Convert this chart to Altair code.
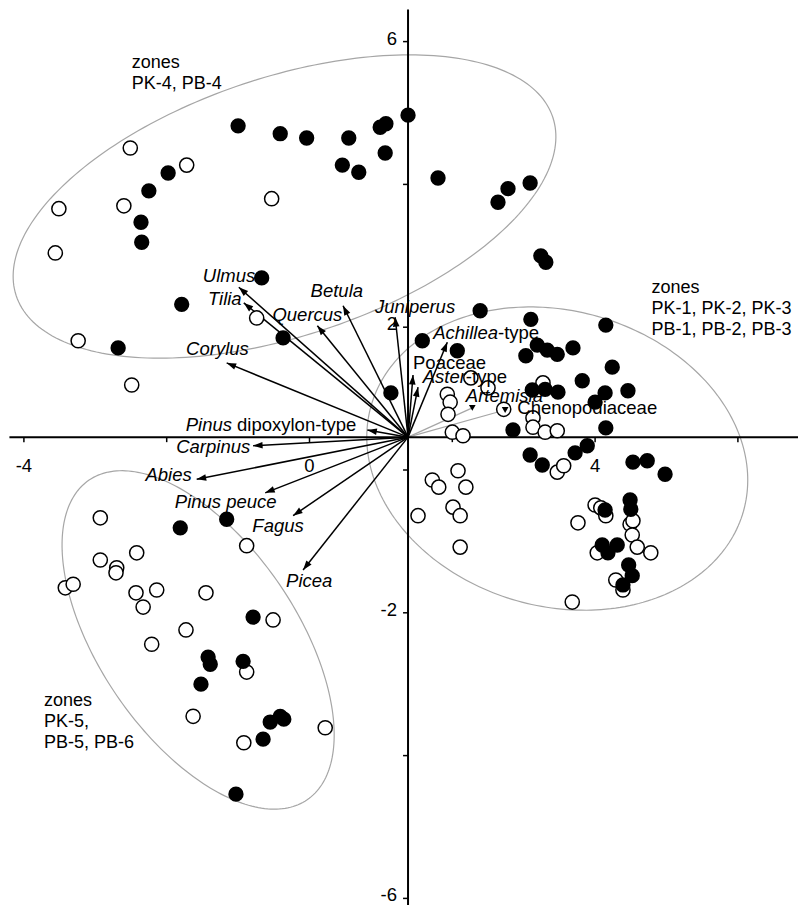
import math
import numpy as np
import pandas as pd
import altair as alt

# ---------------- data ----------------
# sample scores, filled symbols
filled_x = [-1.00, -0.41, -0.04, 0.55, 0.46, 0.69, 0.99, 1.07, 1.06, 1.38, 1.80, 2.64, 2.78, 3.09, 3.24, 3.31,
            -1.98, -2.25, -2.36, -2.35, -0.67, -1.79, -2.68, -0.37, 1.14,
            2.39, 3.10, 4.15, 1.58, 2.07, 3.19, 3.33, 3.47, 3.69, 3.03, 4.24, 3.82, 3.12, 3.30, 3.48, 4.14, 4.46,
            4.00, 2.85, 4.15, 3.09, 3.26, 3.72, 3.89, 4.53, 4.73, 4.98, 4.49, 4.50, 4.14, 4.10, 4.18, 4.31, 4.47,
            4.52, 4.39,
            -1.81, -1.16, -0.79, -1.42, -1.39, -0.93, -1.52, -0.55, -0.41, -0.36, -0.65, -1.03]
filled_y = [4.82, 4.71, 4.65, 4.65, 4.27, 4.17, 4.80, 4.85, 4.44, 4.97, 4.09, 3.75, 3.94, 4.02, 3.00, 2.91,
            4.16, 3.91, 3.47, 3.19, 2.69, 2.32, 1.71, 1.85, 1.08,
            2.23, 2.11, 2.03, 1.81, 1.67, 1.75, 1.68, 1.62, 1.71, 1.60, 1.44, 1.25, 1.12, 1.13, 1.09, 1.08, 1.11,
            0.95, 0.56, 0.59, 0.21, 0.07, 0.24, 0.34, 0.11, 0.13, -0.06, -0.42, -0.55, -0.56, -1.05, -1.16, -1.05,
            -1.33, -1.48, -1.61,
            -0.81, -0.69, -2.06, -2.62, -2.72, -2.68, -3.00, -3.53, -3.45, -3.49, -3.77, -4.54]

# sample scores, open symbols
open_x = [-2.51, -1.72, -3.51, -2.60, -3.56, -0.53, -3.24, -2.49, -0.74,
          2.26, 2.50, 1.93, 1.97, 1.94, 2.00, 2.15, 3.27, 2.72, 3.13, 3.13, 3.30, 3.47, 3.47, 3.56, 2.08, 1.72,
          1.81, 2.19, 2.01, 2.11, 1.52, 2.11, 4.00, 4.08, 4.15, 3.76, 4.49, 4.53, 4.52, 4.59, 4.78, 4.03, 4.29,
          4.39, 3.68,
          -2.93, -2.93, -2.70, -2.71, -2.42, -3.42, -3.31, -2.43, -2.14, -2.33, -1.45, -0.88, -1.73, -2.21,
          -0.51, -0.88, -1.63, -0.92, 0.22]
open_y = [4.51, 4.27, 3.66, 3.70, 3.04, 3.80, 1.81, 1.19, 2.13,
          1.29, 1.15, 1.06, 0.95, 0.78, 0.53, 0.48, 1.22, 0.85, 0.73, 0.60, 0.53, 0.55, -0.03, 0.06, -0.01, -0.14,
          -0.24, -0.24, -0.52, -0.64, -0.64, -1.08, -0.49, -0.53, -0.64, -0.74, -0.76, -0.71, -0.91, -1.08, -1.16,
          -1.16, -1.54, -1.68, -1.85,
          -0.67, -1.26, -1.37, -1.44, -1.16, -1.65, -1.60, -1.72, -1.68, -1.92, -1.72, -1.06, -2.24, -2.44,
          -2.10, -2.83, -3.45, -3.82, -3.61]

# common origin of the species arrows (where the axis lines cross)
origin_x = 1.38
origin_y = 0.46

# species arrows (black)
arrow_names = ["Ulmus", "Tilia", "Quercus", "Betula", "Juniperus", "Corylus", "Pinus dipoxylon-type",
               "Carpinus", "Abies", "Pinus peuce", "Fagus", "Picea", "Achillea-type", "Poaceae", "Aster-type"]
arrow_x = [-0.99, -0.92, 0.11, 0.47, 1.20, -1.16, 0.81, -0.79, -1.58, -0.62, -0.23, -0.09, 1.93, 1.45, 1.52]
arrow_y = [2.56, 2.34, 2.02, 2.30, 2.14, 1.50, 0.56, 0.34, -0.13, -0.32, -0.64, -1.40, 1.79, 1.33, 1.16]

# species arrows drawn in grey
grey_names = ["Artemisia", "Chenopodiaceae"]
grey_x = [2.28, 2.74]
grey_y = [0.87, 0.84]

# species labels: italic parts (right-aligned) and upright parts (left-aligned)
ital_text = ["Ulmus", "Tilia", "Quercus", "Betula", "Juniperus", "Corylus", "Pinus", "Carpinus", "Abies",
             "Pinus peuce", "Fagus", "Picea", "Achillea", "Aster", "Artemisia"]
ital_x = [-0.76, -0.95, 0.46, 0.75, 2.04, -0.85, -1.085, -0.83, -1.65, -0.46, -0.08, 0.32, 2.64, 2.19, 3.27]
ital_y = [2.72, 2.39, 2.17, 2.51, 2.28, 1.69, 0.63, 0.32, -0.07, -0.45, -0.78, -1.55, 1.92, 1.30, 1.04]
rom_text = ["dipoxylon-type", "-type", "Poaceae", "-type", "Chenopodiaceae"]
rom_x = [-1.015, 2.64, 1.45, 2.19, 2.91]
rom_y = [0.63, 1.92, 1.50, 1.30, 0.87]

# zone groups: label lines and grey ellipses (centre, semi-axes, tilt in degrees)
zone_lines = [["zones", "PK-4, PB-4"],
              ["zones", "PK-1, PK-2, PK-3", "PB-1, PB-2, PB-3"],
              ["zones", "PK-5,", "PB-5, PB-6"]]
zone_x = [-2.49, 4.79, -3.72]
zone_y = [5.70, 2.55, -3.24]
ell_cx = [-0.35, 3.47, -1.56]
ell_cy = [3.69, 0.16, -2.38]
ell_a = [3.96, 2.71, 2.71]
ell_b = [1.81, 2.07, 1.38]
ell_tilt = [18.4, -15.8, -55.7]

# axis ticks and tick labels
x_ticks = [-4, -2, 0, 2, 4, 6]
y_ticks = [-6, -4, -2, 0, 2, 4, 6]
x_tick_labels = [-4, 0, 4]
y_tick_labels = [6, 2, -2, -6]

# ---------------- layout ----------------
W, H = 790, 897
PX = 71.4                      # pixels per unit, both axes
XMIN, XMAX = -4.2227, 6.8417
YMIN, YMAX = -6.0924, 6.4706
TL = 5 / PX                    # tick length
FONT = "Liberation Sans"
FS = 18.5

xs = alt.Scale(domain=[XMIN, XMAX], nice=False, zero=False)
ys = alt.Scale(domain=[YMIN, YMAX], nice=False, zero=False)
X = lambda f: alt.X(f, type="quantitative", scale=xs, axis=None)
Y = lambda f: alt.Y(f, type="quantitative", scale=ys, axis=None)

# ellipses
ell_rows = []
for k in range(3):
    phi = math.radians(ell_tilt[k])
    for i, t in enumerate(np.linspace(0, 2 * math.pi, 241)):
        ell_rows.append({
            "g": k, "o": i,
            "x": ell_cx[k] + ell_a[k] * math.cos(phi) * math.cos(t) - ell_b[k] * math.sin(phi) * math.sin(t),
            "y": ell_cy[k] + ell_a[k] * math.sin(phi) * math.cos(t) + ell_b[k] * math.cos(phi) * math.sin(t),
        })
ell_df = pd.DataFrame(ell_rows)
ellipses = alt.Chart(ell_df).mark_line(color="#a6a6a6", strokeWidth=1.2).encode(
    x=X("x"), y=Y("y"), detail="g:N", order="o:Q")

# axis lines
axes_df = pd.DataFrame({"x": [XMIN + 0.02, origin_x], "x2": [XMAX, origin_x],
                        "y": [origin_y, YMIN], "y2": [origin_y, YMAX - 0.02]})
axes = alt.Chart(axes_df).mark_rule(color="black", strokeWidth=2).encode(
    x=X("x"), x2="x2", y=Y("y"), y2="y2")

xt_df = pd.DataFrame({"x": x_ticks})
xt_df["y"] = origin_y
xt_df["y2"] = origin_y - TL
xticks = alt.Chart(xt_df).mark_rule(color="black", strokeWidth=1.5).encode(x=X("x"), y=Y("y"), y2="y2")
yt_df = pd.DataFrame({"y": y_ticks})
yt_df["x"] = origin_x
yt_df["x2"] = origin_x - TL
yticks = alt.Chart(yt_df).mark_rule(color="black", strokeWidth=1.5).encode(x=X("x"), x2="x2", y=Y("y"))

xl_df = pd.DataFrame({"v": x_tick_labels, "t": [str(v) for v in x_tick_labels]})
xl_df["y"] = origin_y - 0.40
xlabels = alt.Chart(xl_df).mark_text(font=FONT, fontSize=FS, align="center", baseline="middle",
                                     color="black").encode(x=X("v"), y=Y("y"), text="t:N")
yl_df = pd.DataFrame({"v": y_tick_labels, "t": [str(v) for v in y_tick_labels]})
yl_df["x"] = origin_x - 0.155
ylabels = alt.Chart(yl_df).mark_text(font=FONT, fontSize=FS, align="right", baseline="middle", dy=-3,
                                     color="black").encode(x=X("x"), y=Y("v"), text="t:N")

# arrows
arr_df = pd.DataFrame({"name": arrow_names, "x2": arrow_x, "y2": arrow_y})
arr_df["x"] = origin_x
arr_df["y"] = origin_y
arrows = alt.Chart(arr_df).mark_rule(color="black", strokeWidth=1.5).encode(
    x=X("x"), y=Y("y"), x2="x2", y2="y2")

HEAD = 90
r_units = math.sqrt(HEAD) / 2 / PX
dx = arr_df["x2"] - origin_x
dy = arr_df["y2"] - origin_y
ln = np.sqrt(dx ** 2 + dy ** 2)
arr_df["hx"] = arr_df["x2"] - r_units * dx / ln
arr_df["hy"] = arr_df["y2"] - r_units * dy / ln
arr_df["ang"] = (np.degrees(np.arctan2(dx, dy)) + 360) % 360
heads = alt.Chart(arr_df).mark_point(shape="M0,-1L-0.7,1L0.7,1Z", filled=True, color="black",
                                     size=HEAD, opacity=1).encode(
    x=X("hx"), y=Y("hy"), angle=alt.Angle("ang:Q", scale=None))

g_df = pd.DataFrame({"name": grey_names, "x2": grey_x, "y2": grey_y})
g_df["x"] = origin_x
g_df["y"] = origin_y
grey_lines = alt.Chart(g_df).mark_rule(color="#a6a6a6", strokeWidth=1.2).encode(
    x=X("x"), y=Y("y"), x2="x2", y2="y2")
grey_heads = alt.Chart(g_df).mark_point(shape="triangle-down", filled=True, color="black",
                                        size=45, opacity=1).encode(x=X("x2"), y=Y("y2"))

# points
open_df = pd.DataFrame({"x": open_x, "y": open_y})
filled_df = pd.DataFrame({"x": filled_x, "y": filled_y})
open_pts = alt.Chart(open_df).mark_point(shape="circle", fill="white", stroke="black", strokeWidth=1.5,
                                         size=200, opacity=1, fillOpacity=1).encode(x=X("x"), y=Y("y"))
filled_pts = alt.Chart(filled_df).mark_point(shape="circle", filled=True, color="black", size=235,
                                             opacity=1).encode(x=X("x"), y=Y("y"))

# labels
it_df = pd.DataFrame({"t": ital_text, "x": ital_x, "y": ital_y})
it_labels = alt.Chart(it_df).mark_text(font=FONT, fontSize=FS, fontStyle="italic", align="right",
                                       baseline="middle", color="black").encode(x=X("x"), y=Y("y"), text="t:N")
rm_df = pd.DataFrame({"t": rom_text, "x": rom_x, "y": rom_y})
rm_labels = alt.Chart(rm_df).mark_text(font=FONT, fontSize=FS, align="left",
                                       baseline="middle", color="black").encode(x=X("x"), y=Y("y"), text="t:N")

zrows = []
for k, lines in enumerate(zone_lines):
    for i, s in enumerate(lines):
        zrows.append({"t": s, "x": zone_x[k], "y": zone_y[k] - i * 21 / PX})
z_df = pd.DataFrame(zrows)
zone_labels = alt.Chart(z_df).mark_text(font=FONT, fontSize=18, align="left", baseline="middle",
                                        color="black").encode(x=X("x"), y=Y("y"), text="t:N")

chart = alt.layer(
    ellipses, grey_lines, arrows, axes, xticks, yticks, open_pts, filled_pts,
    heads, grey_heads, xlabels, ylabels, it_labels, rm_labels, zone_labels
).properties(
    width=W, height=H, padding=0, autosize=alt.AutoSizeParams(type="none")
).configure_view(stroke=None)

chart.save("out.html", embed_options={"renderer": "svg", "actions": False})
